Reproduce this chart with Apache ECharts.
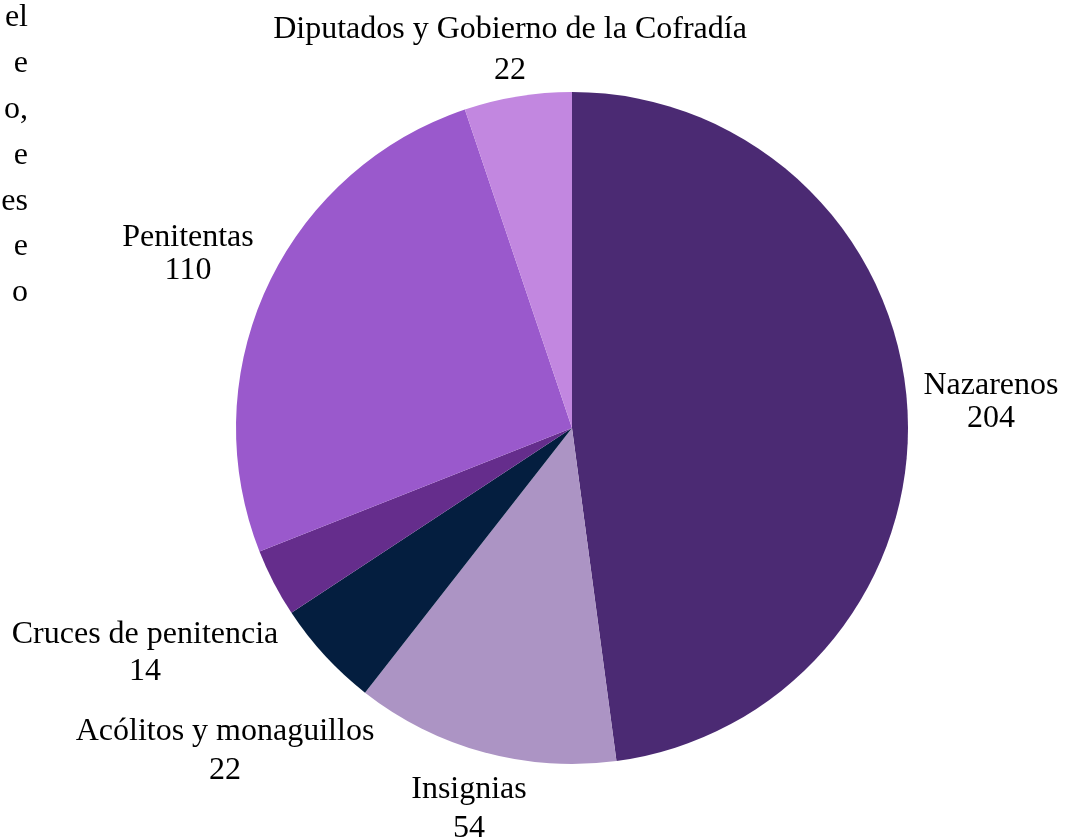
<!DOCTYPE html>
<html>
<head>
<meta charset="utf-8">
<script src="https://cdn.jsdelivr.net/npm/echarts@6/dist/echarts.min.js"></script>
<style>
  html, body { margin: 0; padding: 0; background: #fff; }
  #chart { width: 1075px; height: 837px; }
</style>
</head>
<body>
<div id="chart"></div>
<script>
// categorias y valores
const categories = ['Nazarenos', 'Insignias', 'Acólitos y monaguillos', 'Cruces de penitencia', 'Penitentas', 'Diputados y Gobierno de la Cofradía']
const values = [204, 54, 22, 14, 110, 22]
const colors = ['#4b2a73', '#ac94c4', '#041e3f', '#652d8c', '#9a59cc', '#c287e0']
// trozo de texto del parrafo cortado a la izquierda
const sideText = ['el', 'e', 'o,', 'e', 'es', 'e', 'o']

// posicion de cada etiqueta (centro del bloque) y su interlineado
const labelPos = [[991, 402], [469, 809], [225, 751], [145, 653], [188, 254], [510, 50]]
const labelLH = [33, 39, 39, 37, 33, 41]

const chart = echarts.init(document.getElementById('chart'))
const font = '"Liberation Serif", "DejaVu Serif", serif'

chart.setOption({
  animation: false,
  color: colors,
  graphic: sideText.map((t, i) => ({
    type: 'text',
    right: 1075 - 28,
    top: 2 + i * 45.8,
    style: { text: t, font: '32px ' + font, fill: '#000', textAlign: 'right' }
  })),
  series: [
    {
      type: 'pie',
      center: [572, 428],
      radius: [0, 336],
      startAngle: 90,
      clockwise: true,
      silent: true,
      data: categories.map((c, i) => ({
        name: c,
        value: values[i],
        label: { lineHeight: labelLH[i] }
      })),
      itemStyle: { borderWidth: 0 },
      label: {
        show: true,
        position: 'outside',
        formatter: '{b}\n{c}',
        fontFamily: font,
        fontSize: 32,
        color: '#000',
        align: 'center',
        overflow: 'none',
        width: 600
      },
      labelLine: { show: false },
      labelLayout: function (params) {
        const p = labelPos[params.dataIndex]
        return { x: p[0], y: p[1], align: 'center', verticalAlign: 'middle', hideOverlap: false }
      }
    }
  ]
})
</script>
</body>
</html>
